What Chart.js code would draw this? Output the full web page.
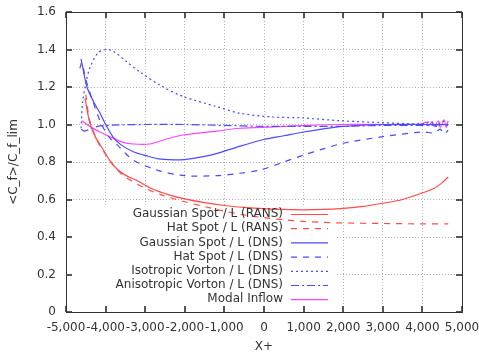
<!DOCTYPE html>
<html>
<head>
<meta charset="utf-8">
<script src="https://cdn.jsdelivr.net/npm/chart.js@4.4.1/dist/chart.umd.min.js"></script>
<style>
  html, body { margin: 0; padding: 0; background: #fff; }
  canvas { display: block; }
</style>
</head>
<body>
<canvas id="chart" width="479" height="354"></canvas>
<script>
// tick values
const xTickValues = [-5000, -4000, -3000, -2000, -1000, 0, 1000, 2000, 3000, 4000, 5000];
const yTickValues = [0, 0.2, 0.4, 0.6, 0.8, 1, 1.2, 1.4, 1.6];

const seriesLabels = [
  "Gaussian Spot / L (RANS)",
  "Hat Spot / L (RANS)",
  "Gaussian Spot / L (DNS)",
  "Hat Spot / L (DNS)",
  "Isotropic Vorton / L (DNS)",
  "Anisotropic Vorton / L (DNS)",
  "Modal Inflow",
];

// Gaussian spot, RANS
const gaussRansX = [-4520, -4400, -4250, -4100, -3900, -3700, -3500, -3200, -2800, -2400, -2000, -1500, -1000, -500, 0, 500, 1000, 1500, 2000, 2500, 3000, 3500, 4000, 4300, 4500, 4650];
const gaussRansY = [1.14, 1.01, 0.93, 0.88, 0.81, 0.76, 0.73, 0.70, 0.655, 0.625, 0.603, 0.583, 0.568, 0.558, 0.551, 0.547, 0.545, 0.547, 0.553, 0.563, 0.58, 0.60, 0.635, 0.66, 0.69, 0.72];

// Hat spot, RANS
const hatRansX = [-4500, -4400, -4200, -4000, -3800, -3500, -3000, -2500, -2000, -1500, -1000, -500, 0, 500, 1000, 1500, 2000, 3000, 4000, 4650];
const hatRansY = [1.16, 1.02, 0.91, 0.84, 0.78, 0.72, 0.66, 0.618, 0.588, 0.562, 0.538, 0.518, 0.503, 0.492, 0.483, 0.478, 0.475, 0.472, 0.47, 0.47];

// Gaussian spot, DNS
const gaussDnsX = [-4620, -4470, -4300, -4140, -4000, -3800, -3600, -3300, -3000, -2600, -2000, -1500, -1200, -600, 0, 500, 1000, 1500, 2000, 3000, 4000, 4650];
const gaussDnsY = [1.35, 1.20, 1.12, 1.06, 1.0, 0.93, 0.89, 0.855, 0.835, 0.815, 0.813, 0.83, 0.845, 0.885, 0.92, 0.94, 0.96, 0.977, 0.99, 1.0, 1.0, 1.0];

// Hat spot, DNS
const hatDnsX = [-4650, -4600, -4500, -4300, -4100, -3900, -3700, -3300, -2700, -2000, -1200, -600, -100, 500, 1000, 1500, 2000, 3000, 4000, 4300, 4450, 4550, 4650];
const hatDnsY = [1.30, 1.33, 1.24, 1.11, 1.0, 0.93, 0.89, 0.81, 0.757, 0.727, 0.727, 0.74, 0.757, 0.80, 0.837, 0.87, 0.90, 0.935, 0.96, 0.955, 0.975, 0.95, 0.97];

// Isotropic vorton, DNS
const isoX = [-4620, -4580, -4500, -4400, -4200, -4000, -3800, -3500, -3130, -2630, -2050, -1190, -610, 230, 985, 1920, 3000, 4000, 4200, 4350, 4500, 4650];
const isoY = [0.98, 1.12, 1.22, 1.30, 1.38, 1.40, 1.39, 1.34, 1.28, 1.21, 1.15, 1.095, 1.06, 1.04, 1.035, 1.02, 1.01, 1.003, 1.015, 0.99, 1.02, 0.99];

// Anisotropic vorton, DNS
const anisoX = [-4620, -4550, -4400, -4200, -3800, -3000, -2000, -1000, 0, 1000, 2000, 3000, 4000, 4650];
const anisoY = [0.975, 0.965, 0.975, 0.99, 0.997, 1.0, 1.0, 0.995, 0.99, 0.99, 0.99, 0.995, 0.995, 1.0];

// Modal inflow
const modalX = [-4600, -4400, -4140, -3890, -3560, -3300, -2880, -2500, -2050, -1190, -610, 230, 1090, 2000, 3000, 3800, 4000, 4100, 4150, 4250, 4300, 4400, 4450, 4550, 4600, 4650];
const modalY = [1.02, 0.99, 0.96, 0.935, 0.905, 0.896, 0.896, 0.92, 0.944, 0.965, 0.98, 0.987, 0.995, 1.0, 1.0, 1.0, 1.005, 1.012, 0.992, 1.015, 0.99, 1.02, 0.985, 1.025, 0.985, 1.02];

const pts = (xs, ys) => xs.map((x, i) => ({ x: x, y: ys[i] }));

const RED = "#ff4a4a";
const BLUE = "#4a4aff";
const MAGENTA = "#ff44ff";

function line(label, xs, ys, color, dash) {
  return {
    label: label,
    data: pts(xs, ys),
    showLine: true,
    borderColor: color,
    backgroundColor: color,
    borderWidth: 1.2,
    borderDash: dash,
    pointRadius: 0,
    tension: 0.3,
  };
}

// white key box under the curves, text + samples on top
const keyPlugin = {
  id: "gnuKey",
  beforeDatasetsDraw(chart) {
    const ctx = chart.ctx;
    const a = chart.chartArea;
    ctx.save();
    ctx.fillStyle = "#fff";
    ctx.fillRect(a.left + 1, 206, 335 - a.left, a.bottom - 207);
    ctx.restore();
  },
  afterDatasetsDraw(chart) {
    const ctx = chart.ctx;
    ctx.save();
    ctx.font = "12px 'DejaVu Sans'";
    ctx.textAlign = "right";
    ctx.textBaseline = "middle";
    chart.data.datasets.forEach((ds, i) => {
      const y = 214 + i * 14.2;
      ctx.fillStyle = "#333";
      ctx.fillText(ds.label, 283, y);
      ctx.strokeStyle = ds.borderColor;
      ctx.lineWidth = ds.borderWidth;
      ctx.setLineDash(ds.borderDash || []);
      ctx.beginPath();
      ctx.moveTo(291, y + 0.5);
      ctx.lineTo(328, y + 0.5);
      ctx.stroke();
    });
    ctx.restore();
  },
};

// frame and inner ticks, gnuplot style
const frameTicks = {
  id: "frameTicks",
  afterDraw(chart) {
    const ctx = chart.ctx;
    const a = chart.chartArea;
    const xs = chart.scales.x;
    const ys = chart.scales.y;
    const L = Math.round(a.left), R = Math.round(a.right);
    const T = Math.round(a.top), B = Math.round(a.bottom);
    ctx.save();
    ctx.fillStyle = "#555";
    xTickValues.forEach((v) => {
      const px = Math.round(xs.getPixelForValue(v));
      ctx.fillRect(px - 1, B - 6, 2, 6);
      ctx.fillRect(px - 1, T, 2, 6);
    });
    yTickValues.forEach((v) => {
      const py = Math.round(ys.getPixelForValue(v));
      ctx.fillRect(L, py - 1, 6, 2);
      ctx.fillRect(R - 6, py - 1, 6, 2);
    });
    ctx.fillStyle = "#333";
    ctx.fillRect(L, T, R - L + 1, 1);
    ctx.fillRect(L, B, R - L + 1, 1);
    ctx.fillRect(L, T, 1, B - T + 1);
    ctx.fillRect(R, T, 1, B - T + 1);
    ctx.restore();
  },
};

function noOverflow(scale) {
  scale.paddingLeft = 0;
  scale.paddingRight = 0;
  scale.paddingTop = 0;
  scale.paddingBottom = 0;
}

Chart.defaults.font.family = "'DejaVu Sans', sans-serif";
Chart.defaults.font.size = 12;
Chart.defaults.color = "#333";

new Chart(document.getElementById("chart"), {
  type: "scatter",
  data: {
    datasets: [
      line(seriesLabels[0], gaussRansX, gaussRansY, RED, []),
      line(seriesLabels[1], hatRansX, hatRansY, RED, [6, 6]),
      line(seriesLabels[2], gaussDnsX, gaussDnsY, BLUE, []),
      line(seriesLabels[3], hatDnsX, hatDnsY, BLUE, [6, 6]),
      line(seriesLabels[4], isoX, isoY, BLUE, [2, 3]),
      line(seriesLabels[5], anisoX, anisoY, BLUE, [8, 3, 2, 3]),
      line(seriesLabels[6], modalX, modalY, MAGENTA, []),
    ],
  },
  options: {
    responsive: false,
    animation: false,
    layout: { padding: { left: 0, top: 12, right: 17, bottom: 0 } },
    plugins: {
      legend: { display: false },
      tooltip: { enabled: false },
    },
    scales: {
      x: {
        type: "linear",
        min: -5000,
        max: 5000,
        afterBuildTicks: (scale) => {
          scale.ticks = xTickValues.map((v) => ({ value: v }));
        },
        afterFit: (scale) => {
          scale.height = 42;
          noOverflow(scale);
        },
        grid: {
          color: (c) => (c.tick.value === -5000 || c.tick.value === 5000 ? "rgba(0,0,0,0)" : "#b4b4b4"),
          drawTicks: false,
        },
        border: { display: true, color: "#333", width: 1, dash: [1, 2] },
        ticks: { padding: 9, maxRotation: 0, autoSkip: false },
        title: { display: true, text: "X+", padding: { top: 0, bottom: 0 } },
      },
      y: {
        type: "linear",
        min: 0,
        max: 1.6,
        afterBuildTicks: (scale) => {
          scale.ticks = yTickValues.map((v) => ({ value: v }));
        },
        afterFit: (scale) => {
          scale.width = 66;
          noOverflow(scale);
        },
        grid: {
          color: (c) => (c.tick.value === 0 || c.tick.value === 1.6 ? "rgba(0,0,0,0)" : "#b4b4b4"),
          drawTicks: false,
        },
        border: { display: true, color: "#333", width: 1, dash: [1, 2] },
        ticks: { padding: 10, autoSkip: false },
        title: { display: true, text: "<C_f>/C_f_lim", padding: { top: 7, bottom: 0 } },
      },
    },
  },
  plugins: [keyPlugin, frameTicks],
});
</script>
</body>
</html>
